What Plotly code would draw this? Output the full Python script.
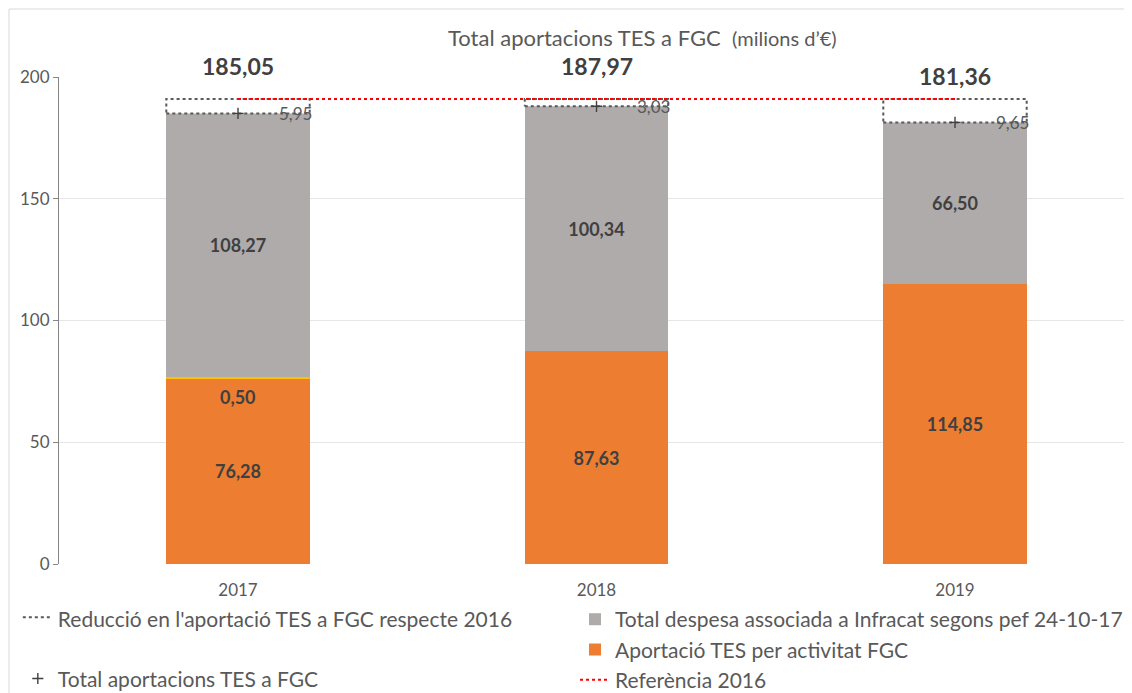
import plotly.graph_objects as go

# ---- data ----
years = ["2017", "2018", "2019"]
aportacio_fgc = [76.28, 87.63, 114.85]
extra_segment = [0.50, 0.0, 0.0]
despesa_infracat = [108.27, 100.34, 66.50]
totals = [185.05, 187.97, 181.36]
reduccio = [5.95, 3.03, 9.65]
referencia_2016 = 191.0
y_ticks = [0, 50, 100, 150, 200]

ORANGE = "#ED7D31"
GRAY = "#AFABAB"
YELLOW = "#FFC000"
RED = "#FF0000"
TXT = "#404040"
TXT2 = "#595959"
FONT = "Lato"

def fmt(v):
    return f"{v:.2f}".replace(".", ",")

xs = list(range(len(years)))
BW = 0.4

fig = go.Figure()

fig.add_trace(go.Bar(
    x=xs, y=aportacio_fgc, width=BW, name="Aportació TES per activitat FGC",
    marker=dict(color=ORANGE, line=dict(width=0)),
    text=[fmt(v) for v in aportacio_fgc], textposition="inside",
    insidetextanchor="middle", textangle=0,
    textfont=dict(family=FONT, size=18, color=TXT, weight="bold"),
    legend="legend2", legendrank=2, hoverinfo="skip"))

fig.add_trace(go.Bar(
    x=xs, y=extra_segment, width=BW, name="segment",
    marker=dict(color=YELLOW, line=dict(width=0)),
    showlegend=False, hoverinfo="skip"))

fig.add_trace(go.Bar(
    x=xs, y=despesa_infracat, width=BW,
    name="Total despesa associada a Infracat segons pef 24-10-17",
    marker=dict(color=GRAY, line=dict(width=0)),
    text=[fmt(v) for v in despesa_infracat], textposition="inside",
    insidetextanchor="middle", textangle=0,
    textfont=dict(family=FONT, size=18, color=TXT, weight="bold"),
    legend="legend2", legendrank=1, hoverinfo="skip"))

# reduction boxes (dotted outline)
bx, by = [], []
for i, (t, r) in enumerate(zip(totals, reduccio)):
    bx += [i - BW / 2, i + BW / 2, i + BW / 2, i - BW / 2, i - BW / 2, None]
    by += [t, t, t + r, t + r, t, None]
fig.add_trace(go.Scatter(
    x=bx, y=by, mode="lines", fill="toself", fillcolor="white",
    line=dict(color=TXT2, width=2, dash="dot"),
    name="Reducció en l'aportació TES a FGC respecte 2016",
    legend="legend", legendgroup="a", hoverinfo="skip"))

# reference line
fig.add_trace(go.Scatter(
    x=xs, y=[referencia_2016] * len(xs), mode="lines",
    line=dict(color=RED, width=2, dash="dot"),
    name="Referència 2016", legend="legend2", legendrank=3, hoverinfo="skip"))

# total markers
fig.add_trace(go.Scatter(
    x=xs, y=totals, mode="markers",
    marker=dict(symbol="cross-thin", size=8, line=dict(width=1.4, color=TXT)),
    name="Total aportacions TES a FGC",
    legend="legend", legendgroup="b", hoverinfo="skip"))

annotations = []
# total labels
total_shift = [31, 24, 30]
for i, t in enumerate(totals):
    annotations.append(dict(x=i, y=t, xref="x", yref="y", text=fmt(t),
                            showarrow=False, yanchor="bottom", yshift=total_shift[i],
                            font=dict(family=FONT, size=23, color=TXT, weight="bold")))
# reduction labels
for i, (t, r) in enumerate(zip(totals, reduccio)):
    annotations.append(dict(x=i + BW / 2, y=t, xref="x", yref="y", text=fmt(r),
                            showarrow=False, xanchor="right", yanchor="middle", xshift=4,
                            font=dict(family=FONT, size=17, color=TXT2)))
# small segment label
for i, (a, e) in enumerate(zip(aportacio_fgc, extra_segment)):
    if e > 0:
        annotations.append(dict(x=i, y=a, xref="x", yref="y", text=fmt(e),
                                showarrow=False, yanchor="top", yshift=-6,
                                font=dict(family=FONT, size=18, color=TXT, weight="bold")))
# title
annotations.append(dict(x=0.5, y=1, xref="paper", yref="paper", yshift=40,
                        text="Total aportacions TES a FGC  <span style='font-size:20px'>(milions d’€)</span>",
                        showarrow=False, xanchor="center", yanchor="middle", xshift=46,
                        font=dict(family=FONT, size=22, color=TXT2)))

fig.update_layout(
    width=1132, height=693,
    margin=dict(l=51, r=6, t=69, b=137, autoexpand=False),
    paper_bgcolor="white", plot_bgcolor="white",
    barmode="stack", bargap=0,
    font=dict(family=FONT, color=TXT2),
    showlegend=True,
    annotations=annotations,
    legend=dict(x=-0.0383, y=-0.072, xanchor="left", yanchor="top",
                orientation="v", tracegroupgap=29, traceorder="grouped",
                font=dict(family=FONT, size=21, color=TXT2), bgcolor="rgba(0,0,0,0)"),
    legend2=dict(x=0.48, y=-0.072, xanchor="left", yanchor="top",
                 orientation="v", traceorder="normal",
                 font=dict(family=FONT, size=21, color=TXT2), bgcolor="rgba(0,0,0,0)"),
    shapes=[dict(type="rect", xref="paper", yref="paper",
                 x0=-0.0465, x1=1.03, y0=-0.35, y1=1.1396,
                 line=dict(color="#D9D9D9", width=1), layer="below")],
)

fig.update_xaxes(range=[-0.4993, 2.4993], tickmode="array", tickvals=xs, ticktext=years,
                 showgrid=False, zeroline=False, showline=False, ticks="",
                 ticklabelstandoff=14,
                 tickfont=dict(family=FONT, size=17, color=TXT2))
fig.update_yaxes(range=[0, 200], tickmode="array", tickvals=y_ticks,
                 showgrid=True, gridcolor="#E6E6E6", gridwidth=1, zeroline=False,
                 showline=True, linecolor="#868686", linewidth=1,
                 ticks="outside", ticklen=5, tickcolor="#868686",
                 tickfont=dict(family=FONT, size=17, color=TXT2))

fig.write_html("out.html")
